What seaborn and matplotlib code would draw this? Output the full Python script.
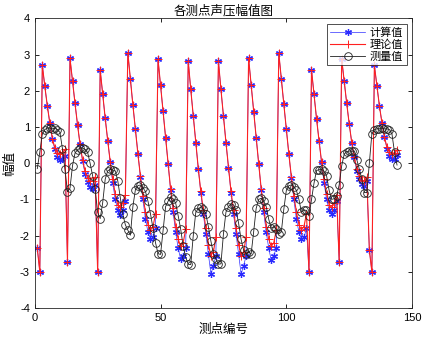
import numpy as np
import pandas as pd
import matplotlib
matplotlib.use('Agg')
import matplotlib.pyplot as plt
import seaborn as sns

# 测点编号 1..144
point_no = list(range(1, 145))

# 计算值
calc_vals = [
    -2.35, -3.00, 2.71, 2.12, 1.58, 1.10, 0.68, 0.38, 0.18, 0.10, 0.12, 0.20,
    -2.72, 2.90, 2.27, 1.65, 1.06, 0.52, 0.07, -0.30, -0.52, -0.66, -0.72, -0.60,
    -3.00, 2.58, 1.91, 1.24, 0.62, 0.02, -0.55, -1.00, -1.30, -1.42, -1.30, -1.05,
    3.05, 2.32, 1.61, 0.94, 0.25, -0.38, -1.00, -1.55, -1.90, -2.10, -2.05, -1.80,
    2.87, 2.15, 1.45, 0.70, -0.03, -0.74, -1.36, -1.90, -2.35, -2.65, -2.55, -2.35,
    2.82, 2.04, 1.30, 0.57, -0.15, -0.81, -1.40, -1.95, -2.50, -3.05, -2.85, -2.55,
    2.82, 2.04, 1.30, 0.57, -0.12, -0.81, -1.40, -1.95, -2.50, -3.05, -2.85, -2.55,
    2.90, 2.17, 1.42, 0.71, -0.01, -0.73, -1.36, -1.90, -2.35, -2.68, -2.55, -2.35,
    3.04, 2.32, 1.63, 0.94, 0.25, -0.40, -1.00, -1.55, -1.90, -2.10, -2.05, -1.80,
    -3.00, 2.58, 1.91, 1.23, 0.62, 0.02, -0.55, -1.00, -1.30, -1.40, -1.30, -1.05,
    -2.72, 2.88, 2.27, 1.65, 1.08, 0.57, 0.16, -0.21, -0.44, -0.58, -0.63, -0.50,
    -2.40, -3.00, 2.70, 2.14, 1.58, 1.12, 0.72, 0.40, 0.20, 0.11, 0.12, 0.22,
]

# 理论值
theory_vals = [
    -2.35, -3.00, 2.71, 2.12, 1.58, 1.10, 0.68, 0.42, 0.28, 0.25, 0.30, 0.38,
    -2.72, 2.90, 2.27, 1.65, 1.06, 0.52, 0.09, -0.22, -0.40, -0.50, -0.50, -0.38,
    -3.00, 2.58, 1.91, 1.24, 0.62, 0.04, -0.45, -0.85, -1.15, -1.22, -1.10, -0.87,
    3.05, 2.32, 1.61, 0.94, 0.25, -0.36, -0.90, -1.35, -1.70, -1.85, -1.75, -1.40,
    2.87, 2.15, 1.45, 0.70, -0.03, -0.72, -1.25, -1.75, -2.10, -2.30, -2.20, -1.82,
    2.82, 2.04, 1.30, 0.57, -0.15, -0.78, -1.30, -1.80, -2.25, -2.55, -2.45, -2.05,
    2.82, 2.04, 1.30, 0.57, -0.12, -0.78, -1.30, -1.80, -2.25, -2.55, -2.45, -2.05,
    2.90, 2.17, 1.42, 0.71, -0.01, -0.70, -1.25, -1.75, -2.10, -2.30, -2.20, -1.85,
    3.04, 2.32, 1.63, 0.94, 0.25, -0.38, -0.90, -1.35, -1.70, -1.85, -1.75, -1.40,
    -3.00, 2.58, 1.91, 1.23, 0.62, 0.04, -0.45, -0.85, -1.15, -1.22, -1.10, -0.87,
    -2.72, 2.88, 2.27, 1.65, 1.08, 0.57, 0.18, -0.15, -0.35, -0.47, -0.50, -0.38,
    -2.40, -3.00, 2.70, 2.14, 1.58, 1.12, 0.72, 0.44, 0.30, 0.25, 0.28, 0.36,
]

# 测量值
meas_vals = [
    -0.15, 0.31, 0.80, 0.93, 0.97, 0.97, 0.95, 0.97, 0.93, 0.85, 0.40, -0.17,
    -0.79, -0.69, -0.07, 0.28, 0.37, 0.42, 0.42, 0.38, 0.30, 0.00, -0.35, -0.72,
    -1.36, -1.53, -1.09, -0.44, -0.21, -0.17, -0.19, -0.21, -0.49, -0.95, -1.41, -1.70,
    -1.85, -1.99, -1.20, -0.73, -0.62, -0.60, -0.68, -0.78, -1.05, -1.40, -1.80, -2.20,
    -2.50, -2.52, -1.85, -1.20, -1.05, -0.94, -0.98, -1.10, -1.45, -1.82, -2.30, -2.60,
    -2.79, -2.80, -2.00, -1.36, -1.25, -1.22, -1.27, -1.40, -1.75, -2.15, -2.50, -2.65,
    -2.79, -2.78, -1.95, -1.35, -1.20, -1.12, -1.15, -1.30, -1.65, -2.10, -2.40, -2.50,
    -2.45, -2.51, -1.90, -1.25, -1.00, -0.97, -1.05, -1.20, -1.55, -1.80, -1.75, -1.82,
    -1.96, -1.90, -1.27, -0.75, -0.62, -0.60, -0.65, -0.75, -1.00, -1.35, -1.30, -1.30,
    -1.46, -1.00, -0.55, -0.20, -0.18, -0.17, -0.22, -0.35, -0.75, -1.00, -0.98, -0.90,
    -0.60, -0.07, 0.25, 0.32, 0.34, 0.33, 0.34, 0.10, -0.16, -0.44, -0.81, -0.81,
    0.00, 0.82, 0.93, 0.95, 0.95, 0.97, 0.95, 0.95, 0.93, 0.80, 0.30, -0.05,
]

df = pd.DataFrame({'测点编号': point_no, '计算值': calc_vals,
                   '理论值': theory_vals, '测量值': meas_vals})

plt.rcParams['font.family'] = ['Liberation Sans', 'Noto Sans CJK SC']
plt.rcParams['axes.unicode_minus'] = False
plt.rcParams['xtick.direction'] = 'in'
plt.rcParams['ytick.direction'] = 'in'

fig = plt.figure(figsize=(4.24, 3.48), dpi=100)
ax = fig.add_axes([0.082, 0.115, 0.890, 0.832])

# asterisk marker like MATLAB '*'
asterisk = (6, 2, 0)

sns.lineplot(data=df, x='测点编号', y='计算值', ax=ax, color='#3030ff', linewidth=0.5,
             marker=asterisk, markersize=5, markeredgecolor='#2a2aff',
             markeredgewidth=0.9, label='计算值')
sns.lineplot(data=df, x='测点编号', y='理论值', ax=ax, color='#ff2020', linewidth=0.8,
             marker='+', markersize=6, markeredgecolor='#ff2020', markeredgewidth=0.7,
             label='理论值')
sns.lineplot(data=df, x='测点编号', y='测量值', ax=ax, color='#202020', linewidth=0.6,
             marker='o', markersize=5.5, markerfacecolor='none', markeredgecolor='#202020',
             markeredgewidth=0.6, label='测量值')

ax.set_xlim(0, 150)
ax.set_ylim(-4, 4)
ax.set_xticks([0, 50, 100, 150])
ax.set_yticks(range(-4, 5))
ax.tick_params(labelsize=8, length=3, width=0.6, top=True, right=True)
for s in ax.spines.values():
    s.set_linewidth(0.6)
    s.set_color('#262626')

ax.set_title('各测点声压幅值图', fontsize=9, pad=3)
ax.set_xlabel('测点编号', fontsize=9, labelpad=1)
ax.set_ylabel('幅值', fontsize=9, labelpad=3)

leg = ax.legend(loc='upper right', fontsize=8, frameon=True, fancybox=False,
                borderaxespad=0.5, handlelength=3.2, borderpad=0.3,
                labelspacing=0.15, handletextpad=0.4)
leg.get_frame().set_edgecolor('k')
leg.get_frame().set_linewidth(0.6)

fig.savefig('out.png', dpi=100)
